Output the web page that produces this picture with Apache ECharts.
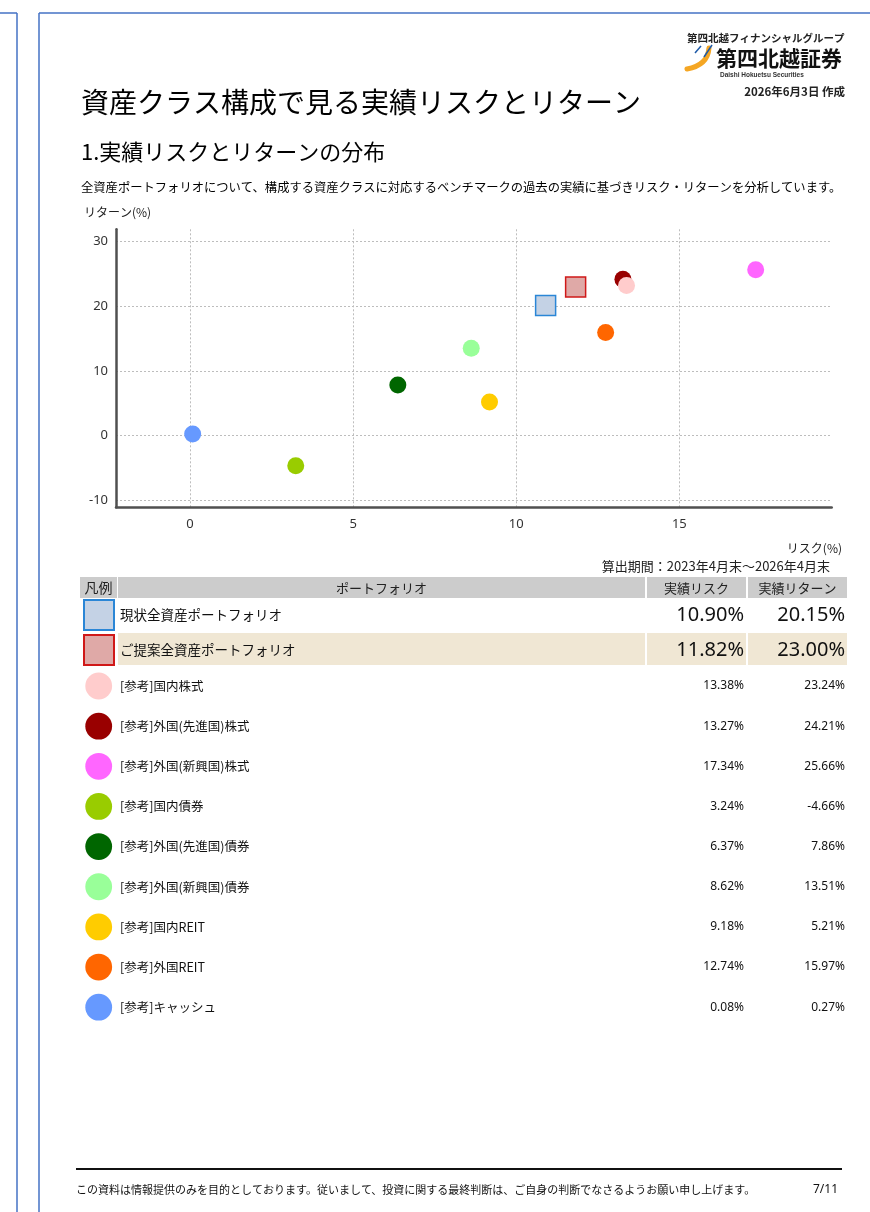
<!DOCTYPE html>
<html>
<head>
<meta charset="utf-8">
<script src="https://cdn.jsdelivr.net/npm/echarts@6/dist/echarts.min.js"></script>
<style>
html,body{margin:0;padding:0;background:#fff;}
#chart{width:870px;height:1212px;}
</style>
</head>
<body>
<div id="chart"></div>
<script>
// ---- data ----
const names = ['現状全資産ポートフォリオ','ご提案全資産ポートフォリオ','[参考]国内株式','[参考]外国(先進国)株式','[参考]外国(新興国)株式','[参考]国内債券','[参考]外国(先進国)債券','[参考]外国(新興国)債券','[参考]国内REIT','[参考]外国REIT','[参考]キャッシュ'];
const risk = [10.90, 11.82, 13.38, 13.27, 17.34, 3.24, 6.37, 8.62, 9.18, 12.74, 0.08];
const ret  = [20.15, 23.00, 23.24, 24.21, 25.66, -4.66, 7.86, 13.51, 5.21, 15.97, 0.27];
const xTicks = [0, 5, 10, 15];
const yTicks = [-10, 0, 10, 20, 30];
const tableHeader = ['凡例','ポートフォリオ','実績リスク','実績リターン'];

// ---- styles ----
const fills   = ['#C4D2E5','#DFA9A7','#FFCCCC','#990000','#FF66FF','#99CC00','#006600','#99FF99','#FFCC00','#FF6600','#6699FF'];
const borders = ['#2A86D6','#D01818',null,null,null,null,null,null,null,null,null];
const JP = '"Noto Sans CJK JP", "Noto Sans", sans-serif';
const NUM = '"Noto Sans", "Noto Sans CJK JP", sans-serif';

const chart = echarts.init(document.getElementById('chart'), null, {renderer:'canvas'});

// scatter series (drawn in reverse so portfolios are on top)
const series = [];
for (let i = names.length - 1; i >= 0; i--) {
  const isSq = i < 2;
  series.push({
    type: 'scatter',
    name: names[i],
    data: [[risk[i], ret[i]]],
    symbol: isSq ? 'rect' : 'circle',
    symbolSize: isSq ? 20 : 17,
    itemStyle: isSq ? {color: fills[i], borderColor: borders[i], borderWidth: 1.5, opacity: 1} : {color: fills[i], opacity: 1},
    emphasis: {disabled: true},
    silent: true
  });
}

const g = [];
function txt(text, x, y, size, opts) {
  opts = opts || {};
  g.push({type:'text', silent:true, z: 10, style:{text:text, x:x, y:y, fill: opts.fill || '#111',
    font: (opts.weight || 'normal') + ' ' + size + 'px ' + (opts.family || JP),
    textAlign: opts.align || 'left', textVerticalAlign: 'middle'}});
}
function rect(x, y, w, h, fill, stroke, lw) {
  g.push({type:'rect', silent:true, z: 5, shape:{x:x, y:y, width:w, height:h},
    style:{fill: fill || 'none', stroke: stroke || null, lineWidth: lw || 0}});
}
function line(x1, y1, x2, y2, color, w) {
  g.push({type:'line', silent:true, z: 5, shape:{x1:x1, y1:y1, x2:x2, y2:y2}, style:{stroke:color, lineWidth:w}});
}

// page frames
line(0, 13, 17, 13, '#4472C4', 1.5);
line(17, 13, 17, 1212, '#4472C4', 1.5);
line(39, 13, 870, 13, '#4472C4', 1.5);
line(39, 13, 39, 1212, '#4472C4', 1.5);

// logo
g.push({type:'bezierCurve', silent:true, z:6, shape:{x1:709, y1:48, x2:687, y2:69, cpx1:708, cpy1:61, cpx2:698, cpy2:67}, style:{stroke:'#F5A623', lineWidth:5, fill:null, lineCap:'round'}});
g.push({type:'line', silent:true, z:6, shape:{x1:712, y1:45, x2:704, y2:57}, style:{stroke:'#1E5AA8', lineWidth:1.5}});
g.push({type:'line', silent:true, z:6, shape:{x1:701, y1:46, x2:695, y2:53}, style:{stroke:'#1E5AA8', lineWidth:1.5}});
txt('第四北越フィナンシャルグループ', 687, 38, 10.5, {weight:'bold', fill:'#222'});
txt('第四北越証券', 716, 58, 21, {weight:'bold', fill:'#111'});
txt('Daishi Hokuetsu Securities', 720, 75, 6.5, {weight:'bold', fill:'#333', family:'"Liberation Sans Narrow", "Liberation Sans", sans-serif'});
txt('2026年6月3日 作成', 845, 92, 11.5, {align:'right', weight:'bold', fill:'#222'});

// titles
txt('資産クラス構成で見る実績リスクとリターン', 81, 102, 28, {fill:'#000'});
txt('1.実績リスクとリターンの分布', 81, 152, 22, {fill:'#000'});
txt('全資産ポートフォリオについて、構成する資産クラスに対応するベンチマークの過去の実績に基づきリスク・リターンを分析しています。', 81, 187, 12.3, {fill:'#000'});
txt('リターン(%)', 84, 212, 12, {fill:'#222'});
txt('リスク(%)', 842, 548, 12, {align:'right', fill:'#222'});
txt('算出期間：2023年4月末～2026年4月末', 830, 566, 13, {align:'right', fill:'#222'});

// table header
rect(80, 577, 37, 21, '#CCCCCC');
rect(118, 577, 527, 21, '#CCCCCC');
rect(647, 577, 99, 21, '#CCCCCC');
rect(748, 577, 99, 21, '#CCCCCC');
txt(tableHeader[0], 98.5, 588, 14, {align:'center', fill:'#222'});
txt(tableHeader[1], 381.5, 588, 13, {align:'center', fill:'#222'});
txt(tableHeader[2], 696.5, 588, 13, {align:'center', fill:'#222'});
txt(tableHeader[3], 797.5, 588, 13, {align:'center', fill:'#222'});

// portfolio rows
const pRowY = [598, 633];
rect(118, 633, 527, 32, '#F0E7D4');
rect(647, 633, 99, 32, '#F0E7D4');
rect(748, 633, 99, 32, '#F0E7D4');
for (let i = 0; i < 2; i++) {
  const y0 = pRowY[i];
  rect(84, y0 + 2, 30, 30, fills[i], borders[i], 2);
  txt(names[i], 120, y0 + 17, 13.5, {fill:'#111'});
  txt(risk[i].toFixed(2) + '%', 744, y0 + 17, 20, {align:'right', fill:'#111', family: NUM});
  txt(ret[i].toFixed(2) + '%', 845, y0 + 17, 20, {align:'right', fill:'#111', family: NUM});
}
// reference rows
for (let i = 2; i < names.length; i++) {
  const cy = 686 + (i - 2) * 40.15;
  g.push({type:'circle', silent:true, z:5, shape:{cx:98.7, cy:cy, r:13.4}, style:{fill:fills[i]}});
  txt(names[i], 120, cy, 12.5, {fill:'#111'});
  txt(risk[i].toFixed(2) + '%', 744, cy, 12, {align:'right', fill:'#111', family: NUM});
  txt(ret[i].toFixed(2) + '%', 845, cy, 12, {align:'right', fill:'#111', family: NUM});
}

// footer
line(76, 1169, 842, 1169, '#111', 2);
txt('この資料は情報提供のみを目的としております。従いまして、投資に関する最終判断は、ご自身の判断でなさるようお願い申し上げます。', 76, 1190, 11, {fill:'#111'});
txt('7/11', 838, 1190, 12, {align:'right', fill:'#111', family: NUM});

chart.setOption({
  animation: false,
  backgroundColor: '#fff',
  grid: {left:116, right:38.3, top:229.3, bottom:704.7, containLabel:false},
  xAxis: {
    type:'value', min:-2.27, max:19.67,
    axisLine:{show:true, onZero:false, lineStyle:{color:'#505050', width:2.5}},
    axisTick:{show:false, customValues: xTicks},
    axisLabel:{customValues: xTicks, color:'#333', fontSize:13, margin:10, fontFamily: NUM},
    splitLine:{show:true, lineStyle:{color:'#BDBDBD', type:[2,2], width:1}}
  },
  yAxis: {
    type:'value', min:-11.07, max:31.92,
    axisLine:{show:true, onZero:false, lineStyle:{color:'#505050', width:2.5}},
    axisTick:{show:false, customValues: yTicks},
    axisLabel:{customValues: yTicks, color:'#333', fontSize:13, margin:8, fontFamily: NUM},
    splitLine:{show:true, lineStyle:{color:'#BDBDBD', type:[2,2], width:1}}
  },
  series: series,
  graphic: g
});
</script>
</body>
</html>
